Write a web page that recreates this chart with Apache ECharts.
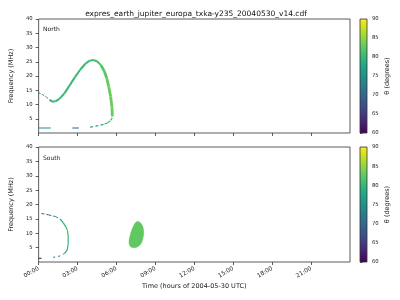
<!DOCTYPE html>
<html><head><meta charset="utf-8">
<script src="https://cdn.jsdelivr.net/npm/echarts@6/dist/echarts.min.js"></script>
<style>html,body{margin:0;padding:0;background:#fff}#c{width:400px;height:300px}</style>
</head><body><div id="c"></div>
<script>
// ---------- data ----------
const chartTitle = 'expres_earth_jupiter_europa_txka-y235_20040530_v14.cdf';
const xTickHours = [0, 3, 6, 9, 12, 15, 18, 21];
const yTickValues = [5, 10, 15, 20, 25, 30, 35, 40];
const cbarTickValues = [60, 65, 70, 75, 80, 85, 90];

// North hemisphere (t in hours, f in MHz, theta in degrees)
const northStartT = [0, 0.3, 0.6, 0.85];
const northStartF = [14.1, 13.5, 12.6, 11.6];
const northStartTheta = [72, 72, 74, 77];

const northRiseT = [0.85, 1.05, 1.3, 1.6, 2.0, 2.4, 2.8, 3.2, 3.6, 3.9, 4.2, 4.5, 4.8];
const northRiseF = [11.6, 11.0, 11.1, 12.0, 14.0, 16.8, 19.6, 22.2, 24.3, 25.3, 25.6, 25.2, 23.8];
const northRiseTheta = [79, 80, 80, 80, 80, 80, 80, 80, 80, 80, 80.5, 81, 81.5];

const northFallT = [4.8, 5.05, 5.25, 5.4, 5.55, 5.65, 5.68];
const northFallF = [23.8, 21.8, 19.2, 16.3, 12.8, 9.0, 5.8];
const northFallTheta = [81.5, 82, 82.5, 83, 83, 83, 83];

const northLowT = [5.68, 5.5, 5.3, 5.0, 4.6, 4.2, 3.8];
const northLowF = [5.3, 4.2, 3.5, 3.0, 2.6, 2.2, 2.0];
const northLowTheta = [81, 80, 79, 78, 77, 75, 74];

const northFlat1T = [0, 0.93];
const northFlat1F = [1.75, 1.75];
const northFlat1Theta = [74, 74];

const northFlat2T = [2.6, 3.1];
const northFlat2F = [1.75, 1.75];
const northFlat2Theta = [69, 69];

// South hemisphere
const southTopT = [0.22, 0.75, 1.3, 1.65];
const southTopF = [16.9, 16.4, 15.8, 15.0];
const southTopTheta = [66, 70, 73, 76];

const southSideT = [1.65, 1.9, 2.1, 2.22, 2.28, 2.27, 2.2, 2.0];
const southSideF = [15.0, 13.6, 12.2, 11.0, 9.0, 6.0, 4.2, 3.0];
const southSideTheta = [77, 79, 80, 80, 80, 80, 79, 78];

const southBottomT = [2.0, 1.65, 1.1];
const southBottomF = [3.0, 2.1, 1.6];
const southBottomTheta = [77, 75, 68];

const southFlatT = [0, 0.22];
const southFlatF = [1.3, 1.3];
const southFlatTheta = [60, 60];

const southBlobT = [7.6, 7.8, 7.98, 8.08, 8.1, 8.05, 7.95, 7.8, 7.55, 7.3, 7.1, 6.98, 6.98, 7.05, 7.15, 7.28, 7.42];
const southBlobF = [14.1, 13.8, 12.8, 11.3, 10.0, 8.5, 7.0, 5.9, 5.1, 5.0, 5.3, 6.3, 7.7, 9.2, 10.8, 12.2, 13.4];
const southBlobTheta = 82.5;

// ---------- colour map (viridis) ----------
const viridis = ['#440154','#482475','#414487','#355f8d','#2a788e','#21918c','#22a884','#44bf70','#7ad151','#bddf26','#fde725'];
function hex2rgb(h){return [parseInt(h.substr(1,2),16),parseInt(h.substr(3,2),16),parseInt(h.substr(5,2),16)];}
function thetaColor(th){
  let u = Math.max(0, Math.min(1, (th - 60) / 30)) * (viridis.length - 1);
  let i = Math.min(Math.floor(u), viridis.length - 2), f = u - i;
  const a = hex2rgb(viridis[i]), b = hex2rgb(viridis[i+1]);
  return 'rgb(' + a.map((v,k)=>Math.round(v + (b[k]-v)*f)).join(',') + ')';
}

const FONT = 'DejaVu Sans';
const AX = '#333';
const TXT = '#222';

function zip(t, f, th){ return t.map((v,i)=>[v, f[i], th[i]]); }

function pathSeries(gridIdx, t, f, th, width, dash){
  return {
    type: 'custom', xAxisIndex: gridIdx, yAxisIndex: gridIdx, clip: true,
    encode: {x: 0, y: 1},
    data: zip(t, f, th),
    renderItem: function(params, api){
      const i = params.dataIndex;
      if (i === 0) return null;
      const p0 = api.coord([t[i-1], f[i-1]]);
      const p1 = api.coord([t[i], f[i]]);
      return {
        type: 'line',
        shape: {x1: p0[0], y1: p0[1], x2: p1[0], y2: p1[1]},
        style: {stroke: thetaColor((th[i-1] + th[i]) / 2), lineWidth: width, lineDash: dash || null, lineCap: 'butt'}
      };
    }
  };
}

function blobSeries(gridIdx, t, f, th){
  return {
    type: 'custom', xAxisIndex: gridIdx, yAxisIndex: gridIdx, clip: true,
    encode: {x: 0, y: 1},
    data: t.map((v,i)=>[v, f[i]]),
    renderItem: function(params, api){
      if (params.dataIndex !== 0) return null;
      const pts = t.map((v,i)=>api.coord([v, f[i]]));
      const c = thetaColor(th);
      return {type: 'polygon', shape: {points: pts, smooth: 0.4}, style: {fill: c, stroke: c, lineWidth: 0.5}};
    }
  };
}

function cbarSeries(gridIdx){
  return {
    type: 'custom', xAxisIndex: gridIdx, yAxisIndex: gridIdx,
    data: [[0, cbarTickValues[0]], [1, cbarTickValues[cbarTickValues.length-1]]],
    encode: {x: 0, y: 1},
    renderItem: function(params, api){
      if (params.dataIndex !== 0) return null;
      const lo = api.coord([0, cbarTickValues[0]]);
      const hi = api.coord([1, cbarTickValues[cbarTickValues.length-1]]);
      const stops = viridis.map((c,i)=>({offset: i/(viridis.length-1), color: c}));
      return {
        type: 'rect',
        shape: {x: lo[0], y: hi[1], width: hi[0]-lo[0], height: lo[1]-hi[1]},
        style: {fill: new echarts.graphic.LinearGradient(0, 1, 0, 0, stops), stroke: AX, lineWidth: 0.8}
      };
    }
  };
}

const hhmm = v => (v < 10 ? '0' : '') + v + ':00';

const grids = [
  {left: 31, top: 19, width: 319, height: 114, show: true, borderColor: AX, borderWidth: 0.8, backgroundColor: 'transparent'},
  {left: 31, top: 147, width: 319, height: 115, show: true, borderColor: AX, borderWidth: 0.8, backgroundColor: 'transparent'},
  {left: 360, top: 19, width: 7, height: 114},
  {left: 360, top: 147, width: 7, height: 115}
];

function mainX(idx, labels){
  return {
    type: 'value', gridIndex: idx, min: 0, max: 24,
    axisLine: {show: false}, splitLine: {show: false},
    axisTick: {show: true, length: 3, lineStyle: {color: AX, width: 0.8}, customValues: xTickHours},
    axisLabel: labels ? {show: true, customValues: xTickHours, rotate: 30, align: 'right', verticalAlign: 'middle',
      fontSize: 5.8, fontFamily: FONT, color: TXT, margin: 6, formatter: hhmm} : {show: false},
    name: labels ? 'Time (hours of 2004-05-30 UTC)' : '',
    nameLocation: 'middle', nameGap: 21,
    nameTextStyle: {fontSize: 6.5, fontFamily: FONT, color: TXT}
  };
}
function mainY(idx){
  return {
    type: 'value', gridIndex: idx, min: 0, max: 40,
    axisLine: {show: false}, splitLine: {show: false},
    axisTick: {show: true, length: 3, lineStyle: {color: AX, width: 0.8}, customValues: yTickValues},
    axisLabel: {show: true, customValues: yTickValues, fontSize: 5.3, fontFamily: FONT, color: TXT, margin: 6},
    name: 'Frequency (MHz)', nameLocation: 'middle', nameGap: 16,
    nameTextStyle: {fontSize: 6.5, fontFamily: FONT, color: TXT}
  };
}
function cbX(idx){
  return {type: 'value', gridIndex: idx, min: 0, max: 1, show: false};
}
function cbY(idx){
  return {
    type: 'value', gridIndex: idx, position: 'right', min: 60, max: 90, interval: 5,
    axisLine: {show: false}, splitLine: {show: false},
    axisTick: {show: true, length: 2.5, lineStyle: {color: AX, width: 0.8}},
    axisLabel: {show: true, fontSize: 5.3, fontFamily: FONT, color: TXT, margin: 5},
    name: 'θ (degrees)', nameLocation: 'middle', nameRotate: 90, nameGap: 17,
    nameTextStyle: {fontSize: 6.5, fontFamily: FONT, color: TXT}
  };
}

const chart = echarts.init(document.getElementById('c'), null, {renderer: 'canvas'});
chart.setOption({
  animation: false,
  backgroundColor: '#fff',
  title: {text: chartTitle, left: 191, top: 5, textAlign: 'center',
    textStyle: {fontSize: 7.5, fontWeight: 'normal', fontFamily: FONT, color: '#111'}},
  graphic: [
    {type: 'text', left: 43, top: 26, style: {text: 'North', fontSize: 6, fontFamily: FONT, fill: TXT}},
    {type: 'text', left: 43, top: 155, style: {text: 'South', fontSize: 6, fontFamily: FONT, fill: TXT}}
  ],
  grid: grids,
  xAxis: [mainX(0, false), mainX(1, true), cbX(2), cbX(3)],
  yAxis: [mainY(0), mainY(1), cbY(2), cbY(3)],
  series: [
    pathSeries(0, northStartT, northStartF, northStartTheta, 1.0, [2, 1.5]),
    pathSeries(0, northRiseT, northRiseF, northRiseTheta, 2.0),
    pathSeries(0, northFallT, northFallF, northFallTheta, 2.8),
    pathSeries(0, northLowT, northLowF, northLowTheta, 1.2, [3, 2.5]),
    pathSeries(0, northFlat1T, northFlat1F, northFlat1Theta, 1.0),
    pathSeries(0, northFlat2T, northFlat2F, northFlat2Theta, 1.0),
    pathSeries(1, southTopT, southTopF, southTopTheta, 1.0, [3, 2]),
    pathSeries(1, southSideT, southSideF, southSideTheta, 1.2),
    pathSeries(1, southBottomT, southBottomF, southBottomTheta, 1.0, [2, 3]),
    pathSeries(1, southFlatT, southFlatF, southFlatTheta, 1.0),
    blobSeries(1, southBlobT, southBlobF, southBlobTheta),
    cbarSeries(2),
    cbarSeries(3)
  ]
});
</script>
</body></html>
